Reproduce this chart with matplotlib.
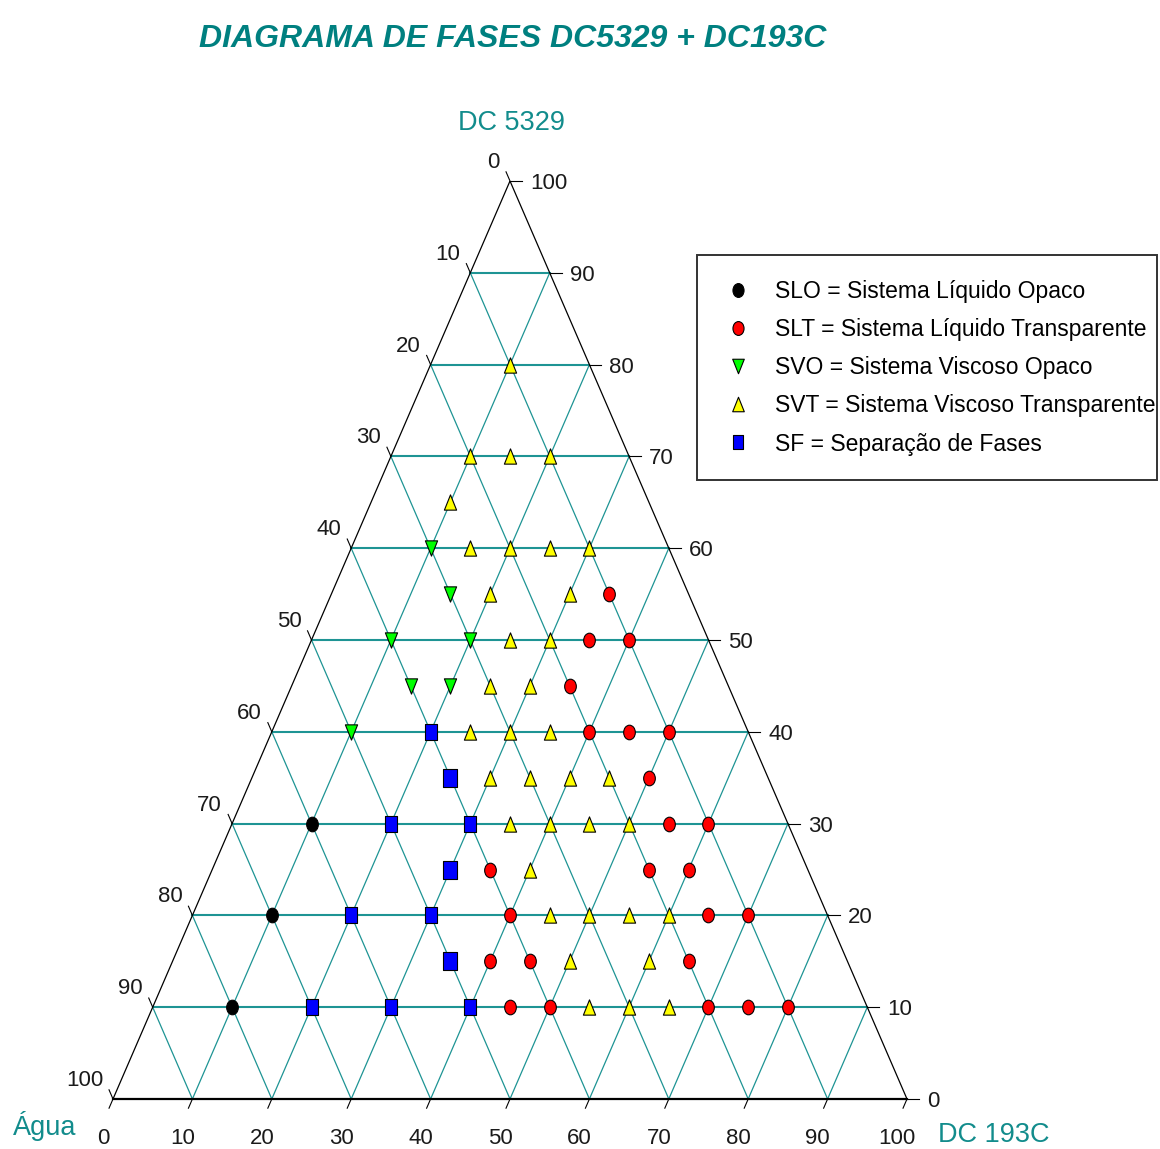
"""Ternary phase diagram DC5329 + DC193C + water."""

import numpy as np
import matplotlib
matplotlib.use("Agg")
from matplotlib import pyplot as plt
from matplotlib.path import Path
from matplotlib.patches import Rectangle
from matplotlib.transforms import offset_copy

# ---- data: % DC 5329 and % DC 193C (water is the remainder) ----
slo_dc5329 = [30, 20, 10]
slo_dc193c = [10, 10, 10]

slt_dc5329 = [55, 50, 50, 45, 40, 40, 40, 35, 30, 30, 25, 25,
              25, 20, 20, 20, 15, 15, 15, 10, 10, 10, 10, 10]
slt_dc193c = [35, 35, 40, 35, 40, 45, 50, 50, 55, 60, 35, 55,
              60, 40, 65, 70, 40, 45, 65, 45, 50, 70, 75, 80]

svo_dc5329 = [60, 55, 50, 50, 45, 45, 40]
svo_dc193c = [10, 15, 10, 20, 15, 20, 10]

svt_dc5329 = [80, 70, 70, 70, 65, 60, 60, 60, 60, 55, 55, 50,
              50, 45, 45, 40, 40, 40, 35, 35, 35, 35, 30, 30,
              30, 30, 25, 20, 20, 20, 20, 15, 15, 10, 10, 10]
svt_dc193c = [10, 10, 15, 20, 10, 15, 20, 25, 30, 20, 30, 25,
              30, 25, 30, 25, 30, 35, 30, 35, 40, 45, 35, 40,
              45, 50, 40, 45, 50, 55, 60, 50, 60, 55, 60, 65]

sf_dc5329 = [40, 30, 30, 20, 20, 10, 10, 10]
sf_dc193c = [20, 20, 30, 20, 30, 20, 30, 40]
# in-between compositions, drawn with a bigger square
sf_mid_dc5329 = [35, 25, 15]
sf_mid_dc193c = [25, 30, 35]

legend_labels = [
    "SLO = Sistema Líquido Opaco",
    "SLT = Sistema Líquido Transparente",
    "SVO = Sistema Viscoso Opaco",
    "SVT = Sistema Viscoso Transparente",
    "SF = Separação de Fases",
]
tick_values = list(range(0, 101, 10))

TEAL = "#008080"
GRID = "#1E9494"
FONT = ["Liberation Sans", "DejaVu Sans"]
W, H = 1160, 1149


def tern(dc5329, dc193c):
    """Composition -> plot coordinates (x along DC193C, y = DC5329)."""
    a = np.asarray(dc5329, float)
    b = np.asarray(dc193c, float)
    return b + a / 2, a


def marker(verts):
    codes = [Path.MOVETO] + [Path.LINETO] * (len(verts) - 2) + [Path.CLOSEPOLY]
    return Path(verts, codes)


# markers are a bit taller than wide, as in the original picture
m_circle = Path.unit_circle()
m_circle = Path(m_circle.vertices * [0.8, 1.0], m_circle.codes)
m_up = marker([(0, 1), (-0.8, -1), (0.8, -1), (0, 1)])
m_down = marker([(0, -1), (-0.8, 1), (0.8, 1), (0, -1)])
m_square = marker([(-0.75, -1), (0.75, -1), (0.75, 1), (-0.75, 1), (-0.75, -1)])

fig = plt.figure(figsize=(W / 100, H / 100), dpi=100)
ax = fig.add_axes([113 / W, 50 / H, 794 / W, 918 / H])
ax.set_xlim(0, 100)
ax.set_ylim(0, 100)
ax.axis("off")

# ---- grid ----
for lv in range(10, 100, 10):
    x, y = tern([lv, lv], [0, 100 - lv])
    ax.plot(x, y, color=GRID, lw=1.5, zorder=1)
    x, y = tern([0, 100 - lv], [lv, lv])
    ax.plot(x, y, color=GRID, lw=0.9, zorder=1)
    x, y = tern([0, 100 - lv], [100 - lv, 0])
    ax.plot(x, y, color=GRID, lw=0.9, zorder=1)

# ---- triangle ----
x, y = tern([0, 100, 0], [0, 0, 100])
ax.plot(x[:2], y[:2], color="black", lw=0.9, zorder=2)
ax.plot(x[1:], y[1:], color="black", lw=0.9, zorder=2)
ax.plot(x[[0, 2]], y[[0, 2]], color="black", lw=1.6, zorder=2, clip_on=False)

# ---- ticks and tick labels ----
T = 1.0
tick_kw = dict(color="black", lw=0.8, clip_on=False, zorder=2)
lab_kw = dict(fontsize=16, family=FONT, color="#1a1a1a", va="baseline")
for t in tick_values:
    # bottom axis: DC 193C
    x0, y0 = tern(0, t)
    ax.plot([x0, x0 - T / 2], [y0, y0 - T], **tick_kw)
    ax.text(x0, y0, str(t), ha="center",
            transform=offset_copy(ax.transData, fig, x=-10, y=-45, units="dots"),
            **lab_kw)
    # right axis: DC 5329
    x0, y0 = tern(t, 100 - t)
    ax.plot([x0, x0 + 1.5], [y0, y0], **tick_kw)
    ax.text(x0, y0, str(t), ha="left",
            transform=offset_copy(ax.transData, fig, x=20, y=-8, units="dots"),
            **lab_kw)
    # left axis: water
    x0, y0 = tern(100 - t, 0)
    ax.plot([x0, x0 - T / 2], [y0, y0 + T], **tick_kw)
    ax.text(x0, y0, str(t), ha="right",
            transform=offset_copy(ax.transData, fig, x=-10, y=13, units="dots"),
            **lab_kw)

# ---- points ----
pt_kw = dict(linestyle="none", markeredgecolor="black", markeredgewidth=0.8,
             zorder=3, clip_on=False)
h_slo, = ax.plot(*tern(slo_dc5329, slo_dc193c), marker=m_circle,
                 markersize=10.5, color="black", **pt_kw)
h_slt, = ax.plot(*tern(slt_dc5329, slt_dc193c), marker=m_circle,
                 markersize=10.5, color="#FF0000", **pt_kw)
h_svo, = ax.plot(*tern(svo_dc5329, svo_dc193c), marker=m_down,
                 markersize=11, color="#00FF00", **pt_kw)
h_svt, = ax.plot(*tern(svt_dc5329, svt_dc193c), marker=m_up,
                 markersize=11, color="#FFFF00", **pt_kw)
h_sf, = ax.plot(*tern(sf_dc5329, sf_dc193c), marker=m_square,
                markersize=11, color="#0000FF", **pt_kw)
ax.plot(*tern(sf_mid_dc5329, sf_mid_dc193c), marker=m_square,
        markersize=13.5, color="#0000FF", **pt_kw)

# ---- legend ----
fig.add_artist(Rectangle((697 / W, 1 - 480 / H), 460 / W, 225 / H,
                         transform=fig.transFigure, fill=False,
                         edgecolor="#333333", lw=1.4))
fig.legend([h_slo, h_slt, h_svo, h_svt, h_sf], legend_labels,
           loc="upper left", bbox_to_anchor=(726.5 / W, 1 - 280 / H),
           frameon=False, prop=dict(family=FONT, size=16.5),
           handlelength=1.0, handletextpad=1.12, labelspacing=0.66,
           borderpad=0, borderaxespad=0, numpoints=1, markerscale=0.95)

# ---- titles ----
fig.text(513 / W, 1 - 47 / H, "DIAGRAMA DE FASES DC5329 + DC193C",
         ha="center", va="baseline", fontsize=23, weight="bold",
         style="italic", color=TEAL, family=FONT)
name_kw = dict(ha="center", va="baseline", fontsize=19.5, color="#128C8C",
               family=FONT)
fig.text(511 / W, 1 - 130 / H, "DC 5329", **name_kw)
fig.text(45 / W, 1 - 1135 / H, "Água", **name_kw)
fig.text(994 / W, 1 - 1142 / H, "DC 193C", **name_kw)

fig.savefig("out.png", dpi=100)
